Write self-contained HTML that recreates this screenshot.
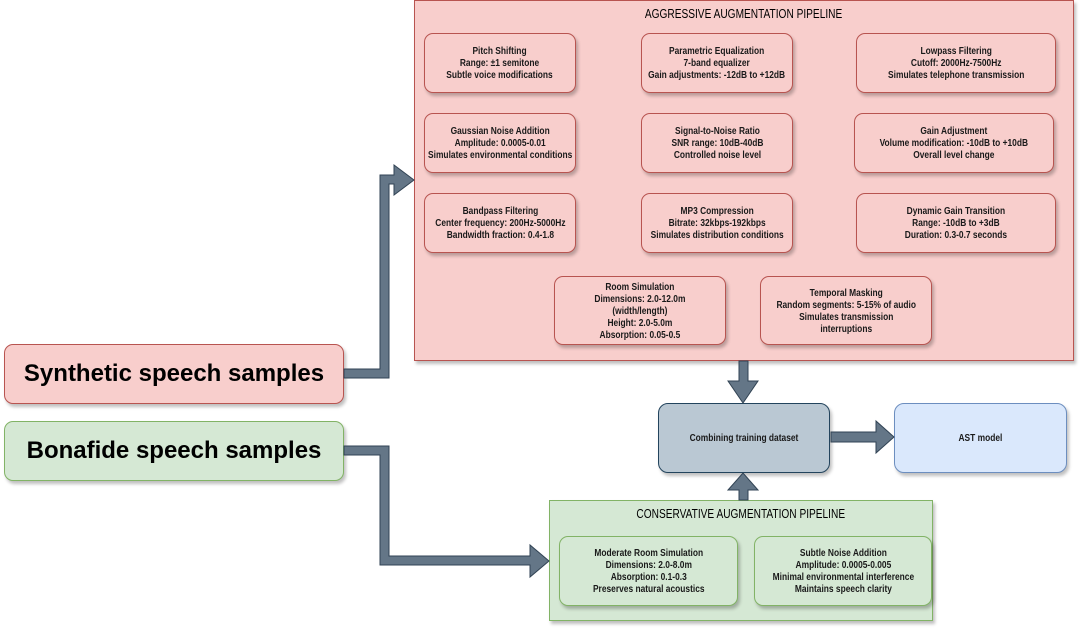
<!DOCTYPE html>
<html><head><meta charset="utf-8"><style>
body{margin:0;background:#fff;width:1086px;height:633px;overflow:hidden;position:relative;font-family:"Liberation Sans",Arial,sans-serif;}
.b{position:absolute;box-sizing:border-box;display:flex;align-items:center;justify-content:center;text-align:center;font-size:10.5px;line-height:12px;color:#111;white-space:nowrap;}
.b span{display:inline-block;transform:scaleX(0.8);font-weight:bold;color:#1a1a1a;}
.r{background:#f8cecc;border:1px solid #b85450;border-radius:9px;box-shadow:2px 3px 3px rgba(0,0,0,.25);}
.g{background:#d5e8d4;border:1px solid #82b366;border-radius:9px;box-shadow:2px 3px 3px rgba(0,0,0,.25);}
.t{position:absolute;font-size:13px;text-align:center;white-space:nowrap;}
.t span{display:inline-block;transform:scaleX(0.78);}
svg{position:absolute;left:0;top:0}
</style></head><body>
<div class="b" style="left:414px;top:0;width:660px;height:361px;background:#f8cecc;border:1px solid #b85450;box-shadow:2px 3px 3px rgba(0,0,0,.25);"></div>
<div class="t" style="left:414px;top:6px;width:660px;"><span>AGGRESSIVE AUGMENTATION PIPELINE</span></div>
<div class="b r" style="left:424px;top:33px;width:152px;height:60px"><span>Pitch Shifting<br>Range: ±1 semitone<br>Subtle voice modifications</span></div>
<div class="b r" style="left:641px;top:33px;width:152px;height:60px"><span>Parametric Equalization<br>7-band equalizer<br>Gain adjustments: -12dB to +12dB</span></div>
<div class="b r" style="left:856px;top:33px;width:200px;height:60px"><span>Lowpass Filtering<br>Cutoff: 2000Hz-7500Hz<br>Simulates telephone transmission</span></div>
<div class="b r" style="left:424px;top:113px;width:152px;height:60px"><span>Gaussian Noise Addition<br>Amplitude: 0.0005-0.01<br>Simulates environmental conditions</span></div>
<div class="b r" style="left:641px;top:113px;width:152px;height:60px"><span>Signal-to-Noise Ratio<br>SNR range: 10dB-40dB<br>Controlled noise level</span></div>
<div class="b r" style="left:854px;top:113px;width:200px;height:60px"><span>Gain Adjustment<br>Volume modification: -10dB to +10dB<br>Overall level change</span></div>
<div class="b r" style="left:424px;top:193px;width:152px;height:60px"><span>Bandpass Filtering<br>Center frequency: 200Hz-5000Hz<br>Bandwidth fraction: 0.4-1.8</span></div>
<div class="b r" style="left:641px;top:193px;width:152px;height:60px"><span>MP3 Compression<br>Bitrate: 32kbps-192kbps<br>Simulates distribution conditions</span></div>
<div class="b r" style="left:856px;top:193px;width:200px;height:60px"><span>Dynamic Gain Transition<br>Range: -10dB to +3dB<br>Duration: 0.3-0.7 seconds</span></div>
<div class="b r" style="left:554px;top:276px;width:172px;height:69px"><span>Room Simulation<br>Dimensions: 2.0-12.0m<br>(width/length)<br>Height: 2.0-5.0m<br>Absorption: 0.05-0.5</span></div>
<div class="b r" style="left:760px;top:276px;width:172px;height:69px"><span>Temporal Masking<br>Random segments: 5-15% of audio<br>Simulates transmission<br>interruptions</span></div>

<div class="b r" style="left:4px;top:344px;width:340px;height:60px;font-size:24px;font-weight:bold;line-height:26px;color:#000">Synthetic speech samples</div>
<div class="b g" style="left:4px;top:421px;width:340px;height:60px;font-size:24px;font-weight:bold;line-height:26px;color:#000">Bonafide speech samples</div>

<div class="b" style="left:658px;top:403px;width:172px;height:70px;background:#bac8d3;border:1px solid #23445d;border-radius:10px;box-shadow:2px 3px 3px rgba(0,0,0,.25)"><span>Combining training dataset</span></div>
<div class="b" style="left:894px;top:403px;width:173px;height:70px;background:#dae8fc;border:1px solid #6c8ebf;border-radius:10px;box-shadow:2px 3px 3px rgba(0,0,0,.25)"><span>AST model</span></div>

<div class="b" style="left:549px;top:500px;width:384px;height:121px;background:#d5e8d4;border:1px solid #82b366;box-shadow:2px 3px 3px rgba(0,0,0,.25)"></div>
<div class="t" style="left:549px;top:506px;width:384px;"><span>CONSERVATIVE AUGMENTATION PIPELINE</span></div>
<div class="b g" style="left:559px;top:536px;width:179px;height:70px"><span>Moderate Room Simulation<br>Dimensions: 2.0-8.0m<br>Absorption: 0.1-0.3<br>Preserves natural acoustics</span></div>
<div class="b g" style="left:754px;top:536px;width:178px;height:70px"><span>Subtle Noise Addition<br>Amplitude: 0.0005-0.005<br>Minimal environmental interference<br>Maintains speech clarity</span></div>

<svg width="1086" height="633">
<g fill="#647687" stroke="#314354" stroke-width="1">
<polygon points="344,369 380,369 380,175 394,175 394,165 414,180 394,195 394,184 389,184 389,378 344,378"/>
<polygon points="344,446 389,446 389,556 530,556 530,545 549,561 530,577 530,565 380,565 380,455 344,455"/>
<polygon points="739,361 748,361 748,381 758,381 743,403 728,381 739,381"/>
<polygon points="739,500 748,500 748,490 758,490 743,473 728,490 739,490"/>
<polygon points="831,432 876,432 876,421 894,437 876,453 876,442 831,442"/>
</g>
</svg>
</body></html>
